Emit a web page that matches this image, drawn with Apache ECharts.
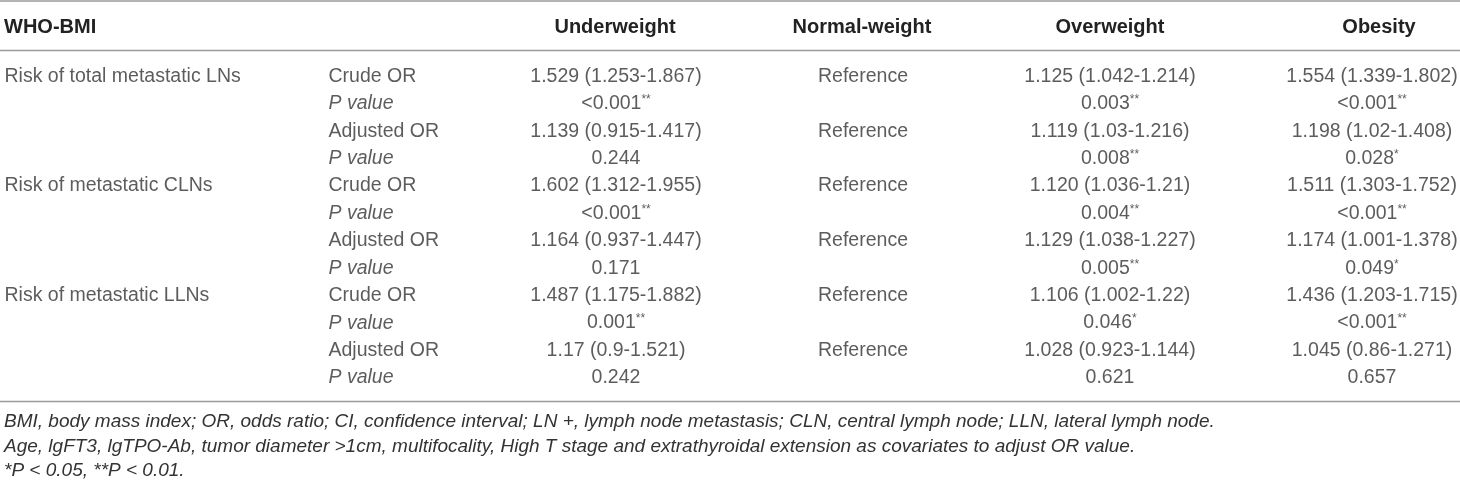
<!DOCTYPE html>
<html>
<head>
<meta charset="utf-8">
<title>WHO-BMI odds ratios</title>
<script src="https://cdn.jsdelivr.net/npm/echarts@6/dist/echarts.min.js"></script>
<style>
  html, body { margin: 0; padding: 0; background: #fff; }
  #table1 { width: 1460px; height: 483px; }
</style>
</head>
<body>
<div id="table1"></div>
<script>
// table contents
var headers = ['WHO-BMI', '', 'Underweight', 'Normal-weight', 'Overweight', 'Obesity'];
var riskGroups = ['Risk of total metastatic LNs', 'Risk of metastatic CLNs', 'Risk of metastatic LLNs'];
var measures = ['Crude OR', 'P value', 'Adjusted OR', 'P value'];

var underweight = ['1.529 (1.253-1.867)', '<0.001**', '1.139 (0.915-1.417)', '0.244',
    '1.602 (1.312-1.955)', '<0.001**', '1.164 (0.937-1.447)', '0.171',
    '1.487 (1.175-1.882)', '0.001**', '1.17 (0.9-1.521)', '0.242'];
var normalWeight = ['Reference', '', 'Reference', '',
    'Reference', '', 'Reference', '',
    'Reference', '', 'Reference', ''];
var overweight = ['1.125 (1.042-1.214)', '0.003**', '1.119 (1.03-1.216)', '0.008**',
    '1.120 (1.036-1.21)', '0.004**', '1.129 (1.038-1.227)', '0.005**',
    '1.106 (1.002-1.22)', '0.046*', '1.028 (0.923-1.144)', '0.621'];
var obesity = ['1.554 (1.339-1.802)', '<0.001**', '1.198 (1.02-1.408)', '0.028*',
    '1.511 (1.303-1.752)', '<0.001**', '1.174 (1.001-1.378)', '0.049*',
    '1.436 (1.203-1.715)', '<0.001**', '1.045 (0.86-1.271)', '0.657'];

var footnotes = [
    'BMI, body mass index; OR, odds ratio; CI, confidence interval; LN +, lymph node metastasis; CLN, central lymph node; LLN, lateral lymph node.',
    'Age, lgFT3, lgTPO-Ab, tumor diameter >1cm, multifocality, High T stage and extrathyroidal extension as covariates to adjust OR value.',
    '*P < 0.05, **P < 0.01.'
];

// layout
var W = 1460;
var colX = [4, 328, 616, 863, 1110, 1372];
var headX = [4, 328, 615, 862, 1110, 1379];
var rowH = 27.4;
var firstRow = 76.5;
var font = '"Liberation Sans", Arial, Helvetica, sans-serif';
var textColor = '#333';
var ruleColor = '#9a9a9a';

var nRows = underweight.length;
var rowIdx = [];
for (var i = 0; i < nRows; i++) rowIdx.push(String(i));

var groupCol = [], measureCol = [];
for (var g = 0; g < riskGroups.length; g++) {
    for (var m = 0; m < measures.length; m++) {
        groupCol.push(m === 0 ? riskGroups[g] : '');
        measureCol.push(measures[m]);
    }
}

function cellSeries(x, values, leftAlign) {
    return {
        type: 'scatter',
        symbolSize: 1,
        itemStyle: { color: 'rgba(0,0,0,0)' },
        silent: true,
        data: values.map(function (v, i) {
            var item = { value: [x, i], name: v };
            if (v === 'P value') item.label = { fontStyle: 'italic' };
            return item;
        }),
        label: {
            show: true,
            position: leftAlign ? 'right' : 'inside',
            distance: 0,
            align: leftAlign ? 'left' : 'center',
            fontFamily: font,
            fontSize: 19.5,
            color: textColor,
            formatter: function (p) {
                return p.name.replace(/(\*+)$/, '{sup|$1}');
            },
            rich: {
                sup: { fontSize: 12, fontFamily: font, color: textColor, padding: [0, 0, 8, 0] }
            }
        }
    };
}

var graphics = [];
[1, 50.5, 401.5].forEach(function (y) {
    graphics.push({
        type: 'line', silent: true,
        shape: { x1: 0, y1: y, x2: W, y2: y },
        style: { stroke: ruleColor, lineWidth: 1.5 }
    });
});
headers.forEach(function (h, i) {
    if (!h) return;
    graphics.push({
        type: 'text', x: headX[i], y: 27,
        style: {
            text: h, fontFamily: font, fontSize: 20, fontWeight: 'bold', fill: '#222',
            align: i === 0 ? 'left' : 'center', verticalAlign: 'middle'
        }
    });
});
footnotes.forEach(function (t, i) {
    graphics.push({
        type: 'text', x: 4, y: 422 + i * 24.5,
        style: {
            text: t, fontFamily: font, fontSize: 19, fontStyle: 'italic', fill: textColor,
            align: 'left', verticalAlign: 'middle'
        }
    });
});

var chart = echarts.init(document.getElementById('table1'));
chart.setOption({
    animation: false,
    grid: { left: 0, right: 0, top: firstRow - rowH / 2, height: rowH * nRows },
    xAxis: { type: 'value', min: 0, max: W, show: false },
    yAxis: { type: 'category', data: rowIdx, inverse: true, show: false },
    series: [
        cellSeries(colX[0], groupCol, true),
        cellSeries(colX[1], measureCol, true),
        cellSeries(colX[2], underweight, false),
        cellSeries(colX[3], normalWeight, false),
        cellSeries(colX[4], overweight, false),
        cellSeries(colX[5], obesity, false)
    ],
    graphic: graphics
});
</script>
</body>
</html>
